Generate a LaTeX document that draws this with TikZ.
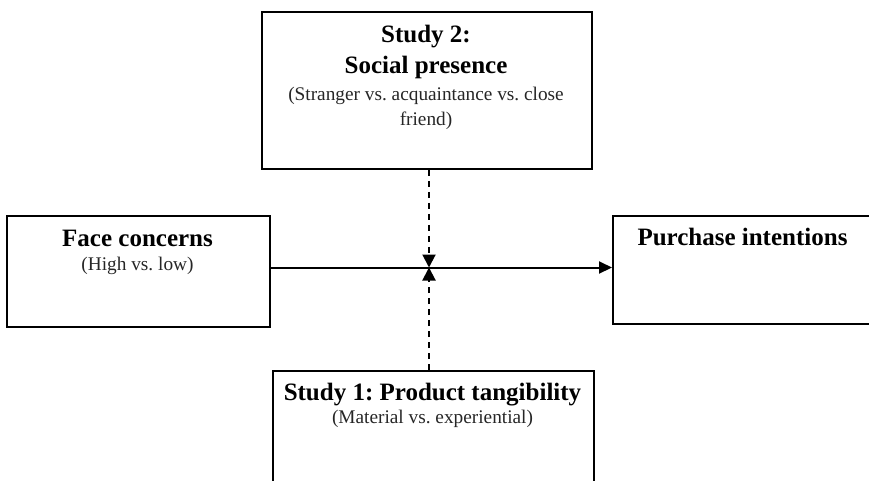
\documentclass[tikz,border=0pt]{standalone}
\usepackage{fontspec}
\setmainfont{Liberation Serif}
\usetikzlibrary{arrows.meta}
\frenchspacing
\begin{document}
\begin{tikzpicture}[x=1pt,y=-1pt,
  box/.style={draw, line width=1.8pt, anchor=north west, inner sep=0pt},
  title/.style={font=\fontsize{25}{29}\selectfont\bfseries, anchor=base, inner sep=0pt},
  sub/.style={font=\fontsize{19.3}{23}\selectfont, anchor=base, inner sep=0pt, text=black!85},
  flow/.style={line width=2pt, -{Triangle[length=13pt,width=12pt]}},
  moderator/.style={line width=2pt, dash pattern=on 6pt off 5pt, -{Triangle[length=13pt,width=13pt]}}]
\useasboundingbox (0,0) rectangle (869,480);

% boxes
\node[box, minimum width=330pt, minimum height=157pt] (social) at (261,11) {};
\node[box, minimum width=263pt, minimum height=111pt] (face) at (6,215) {};
\node[box, minimum width=280pt, minimum height=108pt] (purchase) at (612,215) {};
\node[box, minimum width=321pt, minimum height=130pt] (tangible) at (272,370) {};

% labels
\node[title] (s2a) at (426,42) {Study 2:};
\node[title] (s2b) at (426,73) {Social presence};
\node[sub] (s2c) at (426,100) {(Stranger vs. acquaintance vs. close};
\node[sub] (s2d) at (426,125) {friend)};
\node[title] (fca) at (137.5,246) {Face concerns};
\node[sub] (fcb) at (137.5,270) {(High vs. low)};
\node[title] (pia) at (742.5,245) {Purchase intentions};
\node[title] (s1a) at (432.5,400) {Study 1: Product tangibility};
\node[sub] (s1b) at (432.5,423) {(Material vs. experiential)};

% main path and moderators
\coordinate (j) at (429,267.5);
\draw[flow] (face.east |- j) -- (purchase.west |- j);
\draw[moderator] (social.south -| j) -- (j);
\draw[moderator] (tangible.north -| j) -- (j);
\end{tikzpicture}
\end{document}
